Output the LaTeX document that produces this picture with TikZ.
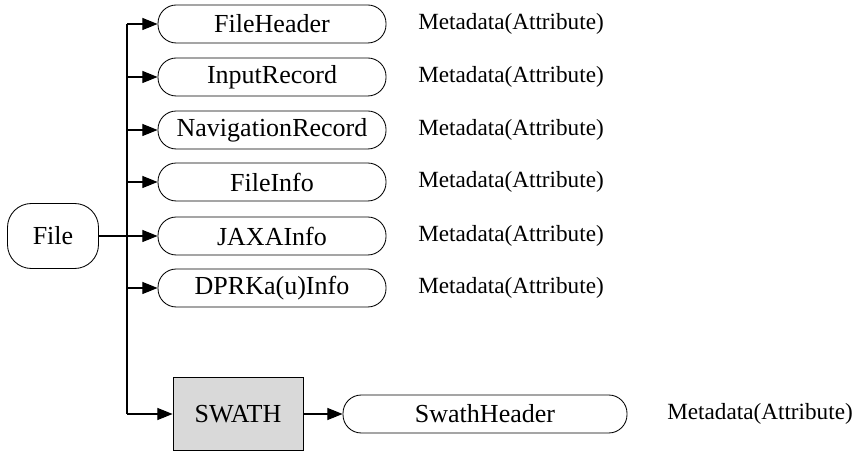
\documentclass[tikz,border=0pt]{standalone}
\usepackage{fontspec}
\setmainfont{Liberation Serif}
\usetikzlibrary{arrows.meta,positioning}

\begin{document}
\begin{tikzpicture}[>={Triangle[length=0.38cm,width=0.3cm]},
 pill/.style={draw,line width=0.6pt,rounded corners=13pt,minimum width=5.7cm,
 minimum height=0.95cm,inner sep=0pt,font=\fontsize{18.5}{22}\selectfont},
 meta/.style={anchor=west,inner sep=0pt,font=\fontsize{16.5}{20}\selectfont},
 link/.style={line width=0.8pt}]
\useasboundingbox (0,0) rectangle (21.45,-11.3);
\node[draw,line width=0.6pt,rounded corners=17pt,minimum width=2.275cm,
 minimum height=1.625cm,font=\fontsize{18.5}{22}\selectfont] (file) at (1.325,-5.9) {File};
\node[pill] (fhead) at (6.8,-0.6) {FileHeader};
\node[pill] (inrec) at (6.8,-1.925) {InputRecord};
\node[pill] (navrec) at (6.8,-3.25) {NavigationRecord};
\node[pill] (finfo) at (6.8,-4.55) {FileInfo};
\node[pill] (jaxa) at (6.8,-5.9) {JAXAInfo};
\node[pill] (dpr) at (6.8,-7.2) {DPRKa(u)Info};
\node[draw,line width=0.6pt,fill=black!15,minimum width=3.25cm,minimum height=1.825cm,
 font=\fontsize{18.5}{22}\selectfont] (swath) at (5.95,-10.35) {SWATH};
\node[pill,minimum width=7.1cm] (shead) at (12.125,-10.35) {SwathHeader};
% attribute labels
\node[meta] (m1) at (10.45,-0.6) {Metadata(Attribute)};
\node[meta] (m2) at (10.45,-1.925) {Metadata(Attribute)};
\node[meta] (m3) at (10.45,-3.25) {Metadata(Attribute)};
\node[meta] (m4) at (10.45,-4.55) {Metadata(Attribute)};
\node[meta] (m5) at (10.45,-5.9) {Metadata(Attribute)};
\node[meta] (m6) at (10.45,-7.2) {Metadata(Attribute)};
\node[meta] (m7) at (16.675,-10.35) {Metadata(Attribute)};
% tree
\coordinate (top) at (3.175,-0.6);
\coordinate (bot) at (3.175,-10.35);
\draw[link,line width=1.2pt] (file) -- (file -| top);
\draw[link] (top) -- (bot);
\draw[link,->] (bot) -- (swath);
\draw[link,->] (top) -- (fhead);
\draw[link,->] (inrec -| top) -- (inrec);
\draw[link,->] (navrec -| top) -- (navrec);
\draw[link,->] (finfo -| top) -- (finfo);
\draw[link,->] (jaxa -| top) -- (jaxa);
\draw[link,->] (dpr -| top) -- (dpr);
\draw[link,->] (swath) -- (shead);
\end{tikzpicture}
\end{document}
